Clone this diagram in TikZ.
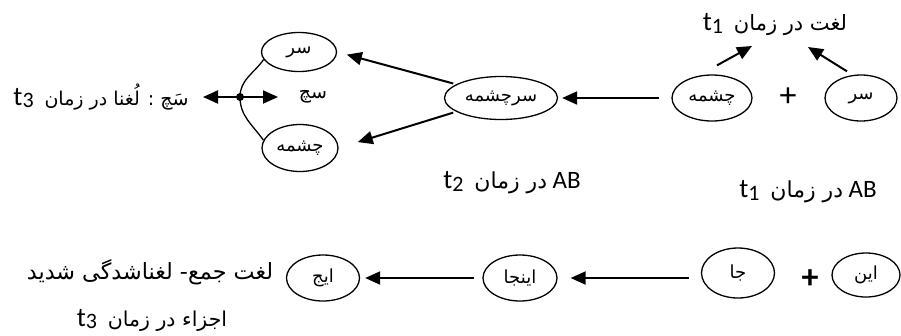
\documentclass[tikz,border=0pt]{standalone}
\usepackage{fontspec}
\setmainfont{Carlito}
\newfontfamily\ar[Script=Arabic]{DejaVu Sans}
\TeXXeTstate=1
\usetikzlibrary{shapes.geometric,arrows.meta}
\newcommand\fs[1]{\fontsize{#1}{#1}\selectfont}
\newcommand\RL[1]{\beginR#1\endR}
\newcommand\LR[1]{\beginL#1\endL{}}
\newcommand\tsub[1]{\beginL{\fs{27}t\raisebox{-2.5pt}{\fs{22}#1}}\endL{}}
\newcommand\AB{\beginL{\fs{25}AB}\endL{}}
\begin{document}
\begin{tikzpicture}[x=1pt,y=-1pt,
  ell/.style={draw, ellipse, line width=1.3pt, inner sep=0pt, font=\ar\fs{18}},
  arr/.style={line width=2pt, -{Triangle[length=15pt,width=13pt]}},
  lbl/.style={font=\fs{24}, inner sep=0pt},
  plus/.style={font=\fs{34}, inner sep=0pt}]
\useasboundingbox (0,0) rectangle (901,335);

% ---- top row ----
\node[ell, minimum width=75pt, minimum height=39pt] (sarA) at (299,52) {\RL{سر}};
\node[ell, minimum width=76pt, minimum height=47pt] (cheshA) at (300,148) {\RL{چشمه}};
\node[ell, minimum width=113pt, minimum height=43pt] (srch) at (501,98) {\RL{سرچشمه}};
\node[ell, minimum width=80pt, minimum height=46pt] (cheshB) at (712,98) {\RL{چشمه}};
\node[ell, minimum width=72pt, minimum height=46pt] (sarB) at (861,98) {\RL{سر}};
\node[plus] (plusA) at (788,97) {+};

\node[lbl] (lblT1) at (775,25) {\RL{{\ar\fs{21}لغت در زمان}\ \ \tsub{1}}};
\node[lbl] (lblAB2) at (512,183) {\RL{\AB\ {\ar\fs{22}در زمان}\ \ \tsub{2}}};
\node[lbl] (lblAB1) at (808,192) {\RL{\AB\ {\ar\fs{22}در زمان}\ \ \tsub{1}}};
\node[lbl] (lblL) at (101,97) {\RL{{\ar\fs{19}سَچ : لُغنا در زمان}\ \ \tsub{3}}};
\node[lbl, font=\ar\fs{19}] (sach) at (313,97) {\RL{سچ}};

% join arc with dot
\coordinate (dot) at (240,97);
\draw[line width=1.3pt] (sarA.192) to[out=235,in=90] (dot) to[out=270,in=125] (cheshA.168);
\fill (dot) circle (4pt);
\coordinate (tipL) at (203,97);
\coordinate (tipR) at (278,97);
\draw[arr] (dot) -- (tipL);
\draw[arr] (dot) -- (tipR);

% arrows
\draw[arr, shorten <=3pt, shorten >=10pt] (srch.163) -- (sarA.east);
\draw[arr, shorten <=3pt, shorten >=20pt] (srch.197) -- (cheshA.east);
\draw[arr, shorten <=12pt, shorten >=4pt] (cheshB.west) -- (srch.east);
\coordinate (tipA) at (752,46);
\coordinate (tipB) at (808,47);
\draw[arr] ([xshift=5pt,yshift=9pt]cheshB.north) -- (tipA);
\draw[arr] ([xshift=-14pt,yshift=3pt]sarB.north) -- (tipB);

% ---- bottom row ----
\node[ell, minimum width=68pt, minimum height=44pt] (in) at (866,275) {\RL{این}};
\node[ell, minimum width=73pt, minimum height=50pt] (ja) at (738,273) {\RL{جا}};
\node[ell, minimum width=74pt, minimum height=46pt] (inja) at (520,278) {\RL{اینجا}};
\node[ell, minimum width=73pt, minimum height=46pt] (ij) at (323,278) {\RL{ایج}};
\node[plus, font=\bfseries\fs{34}] (plusB) at (810,279) {+};

\draw[arr, shorten <=12pt, shorten >=13pt] (ja.west |- inja) -- (inja.east);
\draw[arr, shorten <=8pt, shorten >=5pt] (inja.west) -- (ij.east);

\node[lbl, font=\ar\fs{22.3}] (lblJ) at (150,272) {\RL{لغت جمع- لغناشدگی شدید}};
\node[lbl] (lblE) at (152,320) {\RL{{\ar\fs{20.5}اجزاء در زمان}\ \ \tsub{3}}};
\end{tikzpicture}
\end{document}
